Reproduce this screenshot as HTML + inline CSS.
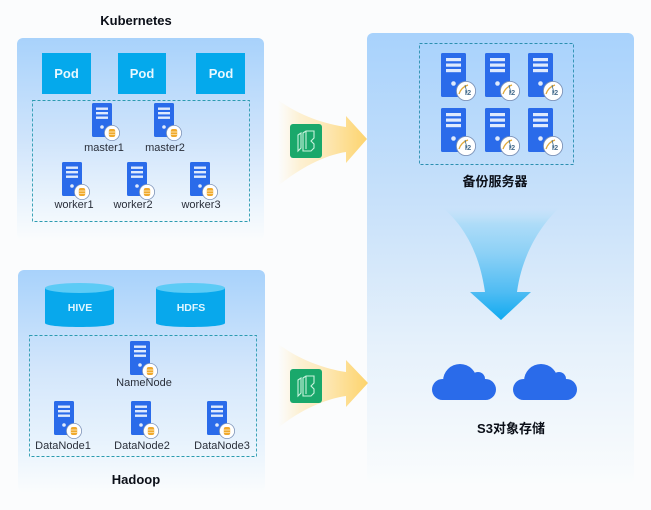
<!DOCTYPE html>
<html><head><meta charset="utf-8"><style>
html,body{margin:0;padding:0;background:#fbfcfd}
svg{display:block}
text{font-family:"Liberation Sans","Noto Sans CJK SC",sans-serif}
.l{font-size:11px;fill:#2a2f3a;text-anchor:middle}
.t{font-size:13px;font-weight:700;fill:#0b0f18;text-anchor:middle}
.w{font-size:13px;font-weight:700;fill:#e8f8ff;text-anchor:middle}
.c{font-size:10.500px;font-weight:700;fill:#dff6ff;text-anchor:middle}
</style></head><body>
<svg width="651" height="510" viewBox="0 0 651 510" xmlns="http://www.w3.org/2000/svg">
<defs>
<linearGradient id="p1" x1="0" y1="0" x2="0" y2="1"><stop offset="0" stop-color="#a8d2fb"/><stop offset=".5" stop-color="#cfe4fb"/><stop offset=".85" stop-color="#eef6fd"/><stop offset="1" stop-color="#fafcfd"/></linearGradient>
<linearGradient id="p2" x1="0" y1="0" x2="0" y2="1"><stop offset="0" stop-color="#a8d2fb"/><stop offset=".45" stop-color="#d3e6fb"/><stop offset=".78" stop-color="#e8f3fd"/><stop offset="1" stop-color="#fafcfd"/></linearGradient>
<linearGradient id="p3" x1="0" y1="0" x2="0" y2="1"><stop offset="0" stop-color="#a8d2fc"/><stop offset=".4" stop-color="#cae2fa"/><stop offset=".7" stop-color="#e6f1fb"/><stop offset="1" stop-color="#fafcfd"/></linearGradient>
<linearGradient id="y" gradientUnits="userSpaceOnUse" x1="278" y1="0" x2="367" y2="0"><stop offset="0" stop-color="#fdf0d0" stop-opacity="0"/><stop offset=".25" stop-color="#fdeecb" stop-opacity=".85"/><stop offset=".5" stop-color="#fde9ba"/><stop offset="1" stop-color="#fdd46e"/></linearGradient>
<linearGradient id="b" gradientUnits="userSpaceOnUse" x1="0" y1="208" x2="0" y2="320"><stop offset="0" stop-color="#b8e0f8" stop-opacity="0"/><stop offset=".14" stop-color="#aedcf8"/><stop offset=".4" stop-color="#8dd1f6"/><stop offset=".75" stop-color="#4fbcf3"/><stop offset="1" stop-color="#0faaf0"/></linearGradient>
<symbol id="srv" viewBox="0 0 20 34" overflow="visible">
<rect width="20" height="34" rx="1.500" fill="#2a6bea"/>
<rect x="4" y="4.500" width="12" height="2.400" fill="#dfeafd"/><rect x="4" y="9" width="12" height="2.400" fill="#dfeafd"/><rect x="4" y="13.500" width="12" height="2.400" fill="#dfeafd"/>
<circle cx="10" cy="24" r="1.800" fill="#dfeafd"/>
</symbol>
<g id="s"><use href="#srv" width="20" height="34"/><circle cx="20" cy="30" r="7.600" fill="#fff" stroke="#7d93b8" stroke-width=".8"/><rect x="16.800" y="26" width="6.400" height="8" rx="2" fill="#f0a92c"/><path d="M17 29h6M17 31.300h6" stroke="#fff3d0" stroke-width=".7"/></g>
<g id="v"><rect width="25" height="44" rx="1.500" fill="#2a6bea"/><rect x="5" y="5" width="15" height="3.200" fill="#dfeafd"/><rect x="5" y="10.500" width="15" height="3.200" fill="#dfeafd"/><rect x="5" y="16" width="15" height="3.200" fill="#dfeafd"/><circle cx="12.500" cy="30.500" r="2.300" fill="#dfeafd"/>
<circle cx="25" cy="38" r="9.600" fill="#fff" stroke="#7d93b8" stroke-width=".9"/><path d="M18 41c2-6 6-8 9-9" fill="none" stroke="#e0a838" stroke-width="1.300"/><path d="M24 32l2 8" stroke="#3a6a8c" stroke-width=".8"/><text x="27" y="42" font-size="7.500" font-weight="700" fill="#4a6f8f" text-anchor="middle">I2</text></g>
<g id="gi"><rect width="32" height="34" rx="3" fill="#1aa86b"/><g fill="none" stroke="#c9f3de" stroke-width="1.100"><path d="M8 11l3-2v15l-3 3z"/><path d="M13 9l3-2h8v7l-3 3 3 3v4l-3 3h-8z"/><path d="M16 7v18"/></g></g>
<g id="cl" fill="#2a6bea"><circle cx="10.500" cy="25.500" r="10.500"/><circle cx="53.500" cy="25.500" r="10.500"/><circle cx="28" cy="17" r="17"/><circle cx="46" cy="15" r="7"/><rect x="10" y="17" width="44" height="19"/></g>
<g id="cyl"><path d="M0 5v35c0 2.500 15 4 34.500 4s34.500-1.500 34.500-4v-35z" fill="#08a8ec"/><ellipse cx="34.500" cy="5" rx="34.500" ry="5" fill="#5ccbf6"/></g>
</defs>
<rect width="651" height="510" fill="#fbfcfd"/>
<rect x="17" y="38" width="247" height="202" rx="6" fill="url(#p1)"/>
<rect x="18" y="270" width="247" height="222" rx="6" fill="url(#p2)"/>
<rect x="367" y="33" width="267" height="450" rx="6" fill="url(#p3)"/>

<text x="136" y="25" class="t">Kubernetes</text>
<rect x="42" y="53" width="49" height="41" fill="#04a9ec"/><rect x="118" y="53" width="48" height="41" fill="#04a9ec"/><rect x="196" y="53" width="49" height="41" fill="#04a9ec"/>
<text x="66.500" y="78" class="w">Pod</text><text x="142" y="78" class="w">Pod</text><text x="221" y="78" class="w">Pod</text>
<rect x="32.500" y="100.500" width="217" height="121" fill="none" stroke="#2b9bb0" stroke-width=".9" stroke-dasharray="3 2"/>
<use href="#s" x="92" y="103"/><use href="#s" x="154" y="103"/>
<use href="#s" x="62" y="162"/><use href="#s" x="127" y="162"/><use href="#s" x="190" y="162"/>
<text x="104" y="151" class="l">master1</text><text x="165" y="151" class="l">master2</text>
<text x="74" y="208" class="l">worker1</text><text x="133" y="208" class="l">worker2</text><text x="201" y="208" class="l">worker3</text>

<use href="#cyl" x="45" y="283"/><use href="#cyl" x="156" y="283"/>
<text x="80" y="311" class="c">HIVE</text><text x="191" y="311" class="c">HDFS</text>
<rect x="29.500" y="335.500" width="227" height="121" fill="none" stroke="#2b9bb0" stroke-width=".9" stroke-dasharray="3 2"/>
<use href="#s" x="130" y="341"/><use href="#s" x="54" y="401"/><use href="#s" x="131" y="401"/><use href="#s" x="207" y="401"/>
<text x="144" y="386" class="l">NameNode</text>
<text x="63" y="449" class="l">DataNode1</text><text x="142" y="449" class="l">DataNode2</text><text x="222" y="449" class="l">DataNode3</text>
<text x="136" y="484" class="t">Hadoop</text>

<path d="M278 100C300 116 325 124 346 127V116L367 139L346 163V152C325 155 300 168 278 186z" fill="url(#y)"/>
<path d="M278 344C300 360 325 369 346 372V360L368 383L346 407V396C325 399 300 410 278 428z" fill="url(#y)"/>
<use href="#gi" x="290" y="124"/><use href="#gi" x="290" y="369"/>

<rect x="419.500" y="43.500" width="154" height="121" fill="none" stroke="#2b8fb0" stroke-width=".9" stroke-dasharray="3 2"/>
<use href="#v" x="441" y="53"/><use href="#v" x="485" y="53"/><use href="#v" x="528" y="53"/>
<use href="#v" x="441" y="108"/><use href="#v" x="485" y="108"/><use href="#v" x="528" y="108"/>
<text x="495" y="186" class="t">备份服务器</text>

<path d="M443 208C462 224 479 250 485 292H470L501 320L531 292H517C522 255 540 226 559 208z" fill="url(#b)"/>
<use href="#cl" x="432" y="364"/><use href="#cl" x="513" y="364"/>
<text x="511" y="433" class="t">S3对象存储</text>
</svg>
</body></html>
